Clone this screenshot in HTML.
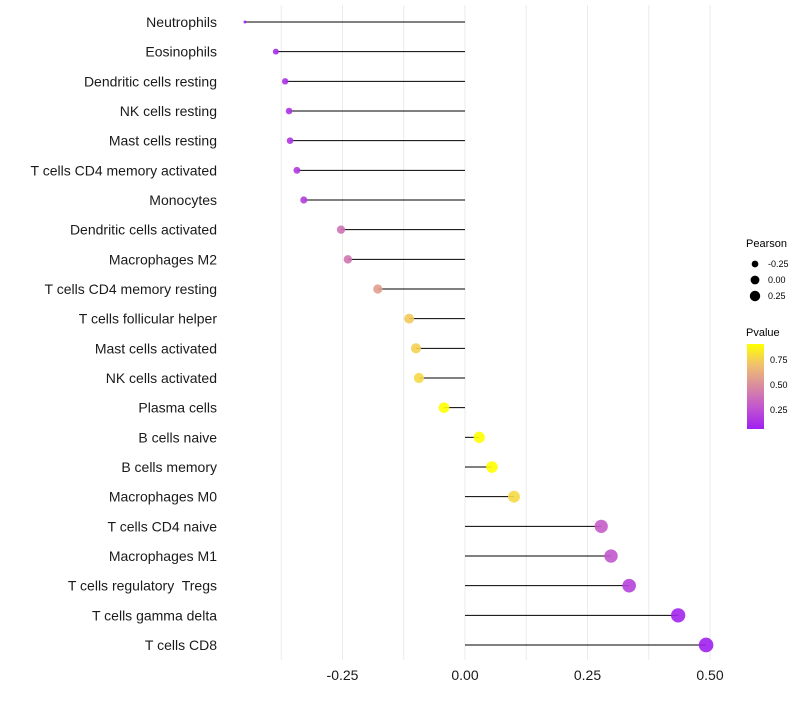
<!DOCTYPE html>
<html><head><meta charset="utf-8"><style>
body{margin:0;background:#fff;}
svg{font-family:"Liberation Sans",sans-serif;}
#ylab text{white-space:pre;}
</style></head><body>
<svg id="chart" width="800" height="700" xmlns="http://www.w3.org/2000/svg">
<rect width="800" height="700" fill="#fff"/>
<g id="grid"></g><g id="marks"></g><g id="ylab"></g><g id="xlab"></g>
<g id="legend">
<text x="746" y="247" font-size="11" fill="#000">Pearson</text>
<g id="sizeLeg"></g>
<text x="746" y="336" font-size="11" fill="#000">Pvalue</text>
<defs><linearGradient id="pg" x1="0" y1="1" x2="0" y2="0">
<stop offset="0" stop-color="#a020f0"/><stop offset="0.25" stop-color="#c155d0"/><stop offset="0.5" stop-color="#d98aa0"/><stop offset="0.75" stop-color="#f0c070"/><stop offset="1" stop-color="#ffff00"/></linearGradient></defs>
<rect x="747" y="344" width="17" height="85" fill="url(#pg)"/>
<text x="770" y="363" font-size="9">0.75</text>
<text x="770" y="388" font-size="9">0.50</text>
<text x="770" y="413" font-size="9">0.25</text>
</g>
</svg>
<script>
const cells=["Neutrophils","Eosinophils","Dendritic cells resting","NK cells resting","Mast cells resting","T cells CD4 memory activated","Monocytes","Dendritic cells activated","Macrophages M2","T cells CD4 memory resting","T cells follicular helper","Mast cells activated","NK cells activated","Plasma cells","B cells naive","B cells memory","Macrophages M0","T cells CD4 naive","Macrophages M1","T cells regulatory  Tregs","T cells gamma delta","T cells CD8"];
const pearson=[-0.449,-0.386,-0.367,-0.359,-0.357,-0.343,-0.329,-0.253,-0.239,-0.178,-0.114,-0.100,-0.094,-0.043,0.029,0.055,0.100,0.278,0.298,0.335,0.435,0.492];
const pvalue=[0.05,0.12,0.13,0.14,0.14,0.16,0.18,0.38,0.40,0.55,0.72,0.74,0.76,0.95,0.97,0.92,0.76,0.30,0.28,0.20,0.08,0.04];
const xTicks=[-0.25,0,0.25,0.5];
const xTickLabels=["-0.25","0.00","0.25","0.50"];
const gridVals=[-0.375,-0.25,-0.125,0,0.125,0.25,0.375,0.5];
const sizeLegVals=[-0.25,0,0.25];
const sizeLegLabels=["-0.25","0.00","0.25"];
const NS="http://www.w3.org/2000/svg";
const x=v=>465+v*490;
const y=i=>22+i*(623/21);
const pMin=Math.min(...pearson);
const r=v=>1.5+6*Math.sqrt(Math.max(0,v-pMin));
const stops=[[0,[160,32,240]],[0.25,[193,85,208]],[0.5,[217,138,160]],[0.75,[240,192,112]],[1,[255,255,0]]];
function col(p){p=Math.max(0,Math.min(1,(p-0.06)/0.83));for(let k=1;k<stops.length;k++){if(p<=stops[k][0]){const a=stops[k-1],b=stops[k],t=(p-a[0])/(b[0]-a[0]);return "rgb("+a[1].map((c,j)=>Math.round(c+(b[1][j]-c)*t)).join(",")+")";}}return "rgb(255,255,0)";}
function mk(t,at,par){const e=document.createElementNS(NS,t);for(const k in at)e.setAttribute(k,at[k]);document.getElementById(par).appendChild(e);return e;}
gridVals.forEach(v=>{const l=mk("line",{x1:x(v),x2:x(v),y1:5,y2:660,stroke:"#ebebeb","stroke-width":1},"grid");

});
cells.forEach((c,i)=>{
const s=mk("line",{x1:x(0),x2:x(pearson[i]),y1:y(i),y2:y(i),stroke:"#000","stroke-width":1},"marks");


const d=mk("circle",{cx:x(pearson[i]),cy:y(i),r:r(pearson[i]),fill:col(pvalue[i]),"fill-opacity":0.9},"marks");


const t=mk("text",{x:217,y:y(i)+5,"text-anchor":"end","font-size":14,fill:"#1a1a1a"},"ylab");t.textContent=c;


});
xTicks.forEach((v,i)=>{const t=mk("text",{x:x(v),y:680,"text-anchor":"middle","font-size":14,fill:"#1a1a1a"},"xlab");t.textContent=xTickLabels[i];

});
sizeLegVals.forEach((v,i)=>{const cy=264+i*16;
const c=mk("circle",{cx:755,cy:cy,r:r(v)*0.8,fill:"#000"},"sizeLeg");


const t=mk("text",{x:768,y:cy+3,"font-size":9},"sizeLeg");t.textContent=sizeLegLabels[i];

});
</script>
</body></html>
